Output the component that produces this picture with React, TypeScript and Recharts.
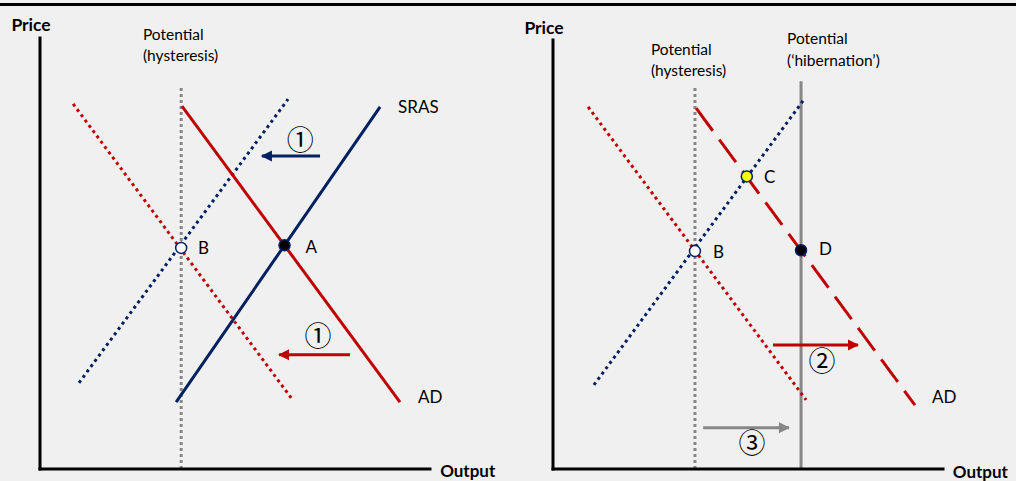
import React from 'react';
import { ComposedChart, Line, XAxis, YAxis, ReferenceDot } from 'recharts';

const RED = '#C00000';
const NAVY = '#002060';
const GREY = '#878787';
const FONT = 'Lato, "Open Sans", sans-serif';
const CIRCLED_FONT = '"Noto Sans CJK JP", "DejaVu Sans", sans-serif';

// Axis titles and annotation texts
const axisTitles = ['Price', 'Output'];
const hysteresisLabel = ['Potential', '(hysteresis)'];
const hibernationLabel = ['Potential', '(\u2018hibernation\u2019)'];
const curveNames = ['SRAS', 'AD'];
const pointNames = ['A', 'B', 'C', 'D'];
const stepMarks = ['\u2460', '\u2461', '\u2462'];

// Axis frame (Output 0-100, Price 0-100)
const priceAxis = [{ x: 0, y: 0 }, { x: 0, y: 100 }];
const outputAxis = [{ x: 0, y: 0 }, { x: 100, y: 0 }];

// ---------- Left panel ----------
const leftHysteresis = [{ x: 36.2, y: 0 }, { x: 36.2, y: 89 }];
const leftAdNew = [{ x: 36.4, y: 84.2 }, { x: 92.3, y: 15.5 }];
const leftAdOld = [{ x: 8.5, y: 84.7 }, { x: 64.4, y: 16.5 }];
const leftSrasNew = [{ x: 34.9, y: 15.5 }, { x: 87.2, y: 84.0 }];
const leftSrasOld = [{ x: 10.0, y: 20.0 }, { x: 63.6, y: 85.8 }];
const leftPointA = { x: 62.7, y: 51.9 };
const leftPointB = { x: 36.2, y: 51.3 };
const leftShiftSras = [{ x: 71.8, y: 72.6 }, { x: 56.9, y: 72.6 }];
const leftShiftAd = [{ x: 79.5, y: 26.5 }, { x: 61.3, y: 26.5 }];

// ---------- Right panel ----------
const rightHysteresis = [{ x: 36.4, y: 0 }, { x: 36.4, y: 88.8 }];
const rightHibernation = [{ x: 63.6, y: 0 }, { x: 63.6, y: 90.4 }];
const rightAdOld = [{ x: 9.0, y: 84.4 }, { x: 64.9, y: 16.1 }];
const rightAdNew = [{ x: 36.7, y: 84.1 }, { x: 92.8, y: 14.9 }];
const rightSras = [{ x: 10.5, y: 19.6 }, { x: 64.1, y: 85.8 }];
const rightPointB = { x: 36.4, y: 50.8 };
const rightPointC = { x: 49.7, y: 68.2 };
const rightPointD = { x: 63.6, y: 51.0 };
const rightShiftAd = [{ x: 56.4, y: 28.9 }, { x: 78.2, y: 28.9 }];
const rightShiftPotential = [{ x: 38.5, y: 9.6 }, { x: 60.5, y: 9.6 }];

const arrowDot = (color: string, dir: number, last: number) => (p: any) => {
  const { cx, cy, index } = p;
  if (index !== last || cx == null) return <g key={`d${index}`} />;
  const tip = cx + dir * 1;
  const base = tip - dir * 11;
  return (
    <polygon
      key={`d${index}`}
      points={`${tip},${cy} ${base},${cy - 5.5} ${base},${cy + 5.5}`}
      fill={color}
    />
  );
};

const textShape =
  (value: string, anchor: 'start' | 'middle' | 'end', size: number, weight = 400, family = FONT) =>
  (p: any) => (
    <text
      x={p.cx}
      y={p.cy}
      textAnchor={anchor}
      dominantBaseline="central"
      fontFamily={family}
      fontSize={size}
      fontWeight={weight}
      fill="#000"
    >
      {value}
    </text>
  );

const Txt = (x: number, y: number, value: string, anchor: 'start' | 'middle' | 'end', size: number, weight = 400, family = FONT) => (
  <ReferenceDot
    key={`${value}-${x}-${y}`}
    x={x}
    y={y}
    r={0}
    ifOverflow="visible"
    shape={textShape(value, anchor, size, weight, family)}
  />
);

const Pt = (pt: { x: number; y: number }, fill: string) => (
  <ReferenceDot
    x={pt.x}
    y={pt.y}
    r={5.5}
    fill={fill}
    stroke={NAVY}
    strokeWidth={1.5}
    ifOverflow="visible"
  />
);

const axes = (
  <>
    <XAxis type="number" dataKey="x" domain={[0, 100]} hide />
    <YAxis type="number" dataKey="y" domain={[0, 100]} hide />
  </>
);

const seg = (data: any[], color: string, dash?: string, width = 3, cap: 'butt' | 'square' = 'butt') => (
  <Line
    data={data}
    dataKey="y"
    type="linear"
    stroke={color}
    strokeWidth={width}
    strokeDasharray={dash}
    dot={false}
    activeDot={false}
    isAnimationActive={false}
    strokeLinecap={cap}
  />
);

const arrow = (data: any[], color: string) => (
  <Line
    data={data}
    dataKey="y"
    type="linear"
    stroke={color}
    strokeWidth={3}
    dot={arrowDot(color, data[1].x > data[0].x ? 1 : -1, data.length - 1)}
    activeDot={false}
    isAnimationActive={false}
  />
);

const frame = (
  <>
    {seg(priceAxis, '#000', undefined, 3, 'square')}
    {seg(outputAxis, '#000', undefined, 3, 'square')}
  </>
);

export default function App() {
  return (
    <div style={{ position: 'fixed', left: 0, top: 0, width: 1016, height: 481, background: '#f0f0f0', overflow: 'hidden' }}>
      <div style={{ position: 'absolute', left: 0, top: 3, width: 1016, height: 3, background: '#000' }} />
      <div style={{ position: 'absolute', left: 0, top: 0 }}>
        <ComposedChart width={508} height={481} margin={{ top: 38, right: 78, bottom: 12, left: 40 }}>
          {axes}
          {seg(leftHysteresis, GREY, '3 3')}
          {frame}
          {seg(leftAdOld, RED, '3 3.6')}
          {seg(leftSrasOld, NAVY, '3 3.6')}
          {seg(leftAdNew, RED)}
          {seg(leftSrasNew, NAVY)}
          {arrow(leftShiftSras, NAVY)}
          {arrow(leftShiftAd, RED)}
          {Pt(leftPointB, '#ffffff')}
          {Pt(leftPointA, '#000000')}
          {Txt(-2.3, 103.2, axisTitles[0], 'middle', 17.5, 700)}
          {Txt(102.6, -0.4, axisTitles[1], 'start', 17, 700)}
          {Txt(26.4, 100.9, hysteresisLabel[0], 'start', 15.5)}
          {Txt(26.4, 96.0, hysteresisLabel[1], 'start', 15.5)}
          {Txt(91.8, 84.0, curveNames[0], 'start', 17)}
          {Txt(96.9, 16.9, curveNames[1], 'start', 17)}
          {Txt(68.1, 51.7, pointNames[0], 'start', 17)}
          {Txt(40.5, 51.3, pointNames[1], 'start', 17)}
          {Txt(66.7, 76.6, stepMarks[0], 'middle', 27, 400, CIRCLED_FONT)}
          {Txt(71.3, 31.1, stepMarks[0], 'middle', 27, 400, CIRCLED_FONT)}
        </ComposedChart>
      </div>
      <div style={{ position: 'absolute', left: 508, top: 0 }}>
        <ComposedChart width={508} height={481} margin={{ top: 40, right: 73, bottom: 12, left: 45 }}>
          {axes}
          {seg(rightHysteresis, GREY, '3 3')}
          {seg(rightHibernation, GREY)}
          {frame}
          {seg(rightAdOld, RED, '3 3.6')}
          {seg(rightSras, NAVY, '3 3.6')}
          {seg(rightAdNew, RED, '28 11')}
          {arrow(rightShiftAd, RED)}
          {arrow(rightShiftPotential, GREY)}
          {Pt(rightPointB, '#ffffff')}
          {Pt(rightPointC, '#ffff00')}
          {Pt(rightPointD, '#000000')}
          {Txt(-2.3, 103.0, axisTitles[0], 'middle', 17.5, 700)}
          {Txt(102.5, -0.5, axisTitles[1], 'start', 17, 700)}
          {Txt(25.1, 98.0, hysteresisLabel[0], 'start', 15.5)}
          {Txt(25.1, 93.0, hysteresisLabel[1], 'start', 15.5)}
          {Txt(60.0, 100.5, hibernationLabel[0], 'start', 15.5)}
          {Txt(60.0, 95.3, hibernationLabel[1], 'start', 15.5)}
          {Txt(97.2, 16.8, curveNames[1], 'start', 17)}
          {Txt(41.0, 50.8, pointNames[1], 'start', 17)}
          {Txt(54.1, 68.1, pointNames[2], 'start', 17)}
          {Txt(68.2, 51.3, pointNames[3], 'start', 17)}
          {Txt(69.0, 25.6, stepMarks[1], 'middle', 27, 400, CIRCLED_FONT)}
          {Txt(51.0, 6.5, stepMarks[2], 'middle', 27, 400, CIRCLED_FONT)}
        </ComposedChart>
      </div>
    </div>
  );
}
